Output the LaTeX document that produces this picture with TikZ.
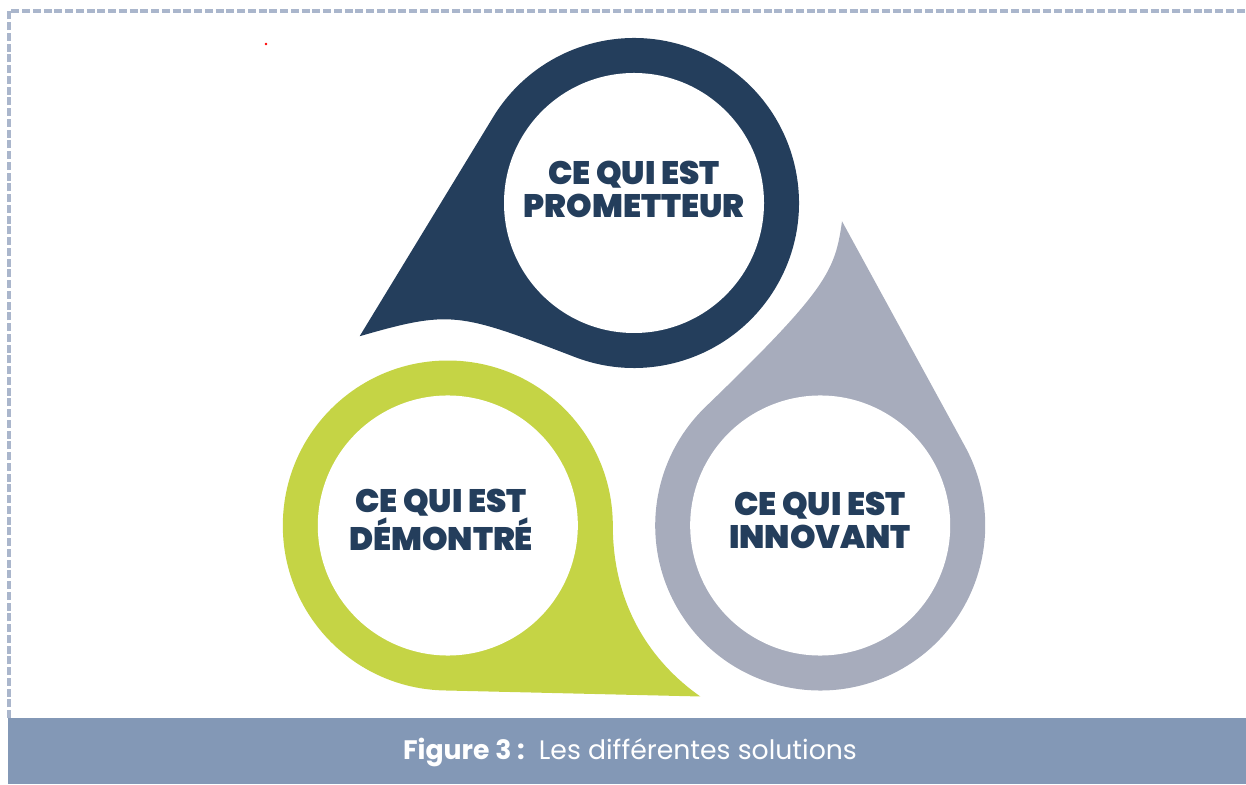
\documentclass[tikz,border=0pt]{standalone}
\usepackage{fontspec}
\setmainfont{Poppins}
\newfontfamily\heavyfont{Poppins}[UprightFont={* Black}]
\usetikzlibrary{calc}
\definecolor{PromClr}{HTML}{243E5C}
\definecolor{DemoClr}{HTML}{C5D445}
\definecolor{InnoClr}{HTML}{A7ACBC}
\definecolor{BarClr}{HTML}{8398B6}
\definecolor{FrameClr}{HTML}{AAB6CC}

\begin{document}
\begin{tikzpicture}[x=0.02cm,y=0.02cm,
  droptext/.style={text=PromClr,font=\heavyfont\fontsize{18.5}{18.7}\selectfont,align=center,inner sep=0pt},
  captext/.style={text=white,font=\fontsize{15.2}{17}\selectfont,inner sep=0pt}]
\useasboundingbox (0,0) rectangle (1246,784);

\draw[FrameClr,line width=2pt,dash pattern=on 0.16cm off 0.055cm] (9,66) -- (9,773) -- (1246,773);
\fill[BarClr] (8,0) rectangle (1246,66);
\fill[red] (266,740) circle (1.3);

\coordinate (O) at (634,366);

% drops: turn / colour / join angle / tip control angle / control lengths
\foreach \ang/\clr/\jn/\ec/\la/\lb in {0/PromClr/-111/16/125/95,
    120/DemoClr/-120/25/80/60, 240/InnoClr/-106/22/170/50}{
  \begin{scope}[shift={(O)},rotate=\ang,shift={(0,215)}]
    \fill[\clr] (205.9:305) -- (148.6:165) arc[start angle=148.6,end angle=\jn,radius=165]
      .. controls +({\jn-90}:\la) and +(\ec:\lb) .. (205.9:305) -- cycle;
    \fill[white] (0,0) circle (130);
  \end{scope}
}

\node[droptext] (prom) at (634,595) {CE QUI EST\\PROMETTEUR};
\node[droptext] (demo) at (441,264) {CE QUI EST\\DÉMONTRÉ};
\node[droptext] (inno) at (820,264) {CE QUI EST\\INNOVANT};

\node[captext,anchor=base] (caption) at (630,25) {\textbf{Figure 3 :}\ \ Les différentes solutions};

\end{tikzpicture}
\end{document}
